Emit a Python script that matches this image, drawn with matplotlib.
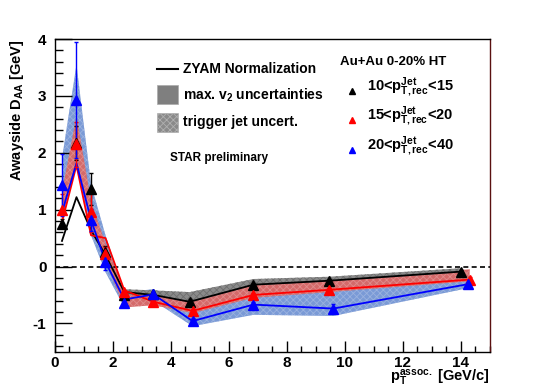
import matplotlib
matplotlib.use("Agg")
import matplotlib.pyplot as plt
import numpy as np
from matplotlib.patches import Rectangle
from matplotlib.lines import Line2D

plt.rcParams['font.family'] = ['Liberation Sans', 'DejaVu Sans']
plt.rcParams['font.weight'] = 'bold'
plt.rcParams['mathtext.fontset'] = 'custom'
plt.rcParams['mathtext.rm'] = 'Liberation Sans:bold'
plt.rcParams['mathtext.it'] = 'Liberation Sans:bold'
plt.rcParams['mathtext.bf'] = 'Liberation Sans:bold'
plt.rcParams['hatch.linewidth'] = 0.6
plt.rcParams['axes.unicode_minus'] = False

# ---------------- data ----------------
# black: 10 < pT,jet < 15
x_blk = [0.25, 0.75, 1.25, 1.75, 2.4, 3.4, 4.65, 6.85, 9.45, 14.0]
y_blk = [0.75, 2.18, 1.37, 0.26, -0.50, -0.49, -0.62, -0.32, -0.25, -0.09]
e_blk = [0.08, 0.30, 0.28, 0.10, 0.04, 0.03, 0.04, 0.03, 0.03, 0.03]
zyam_blk = [0.45, 1.22, 0.64, 0.20, -0.45, -0.50, -0.62, -0.32, -0.25, -0.09]
band_blk_lo = [None, None, None, None, -0.50, -0.50, -0.63, -0.33, -0.26, -0.10]
band_blk_hi = [None, None, None, None, -0.40, -0.42, -0.45, -0.22, -0.18, -0.03]

# red: 15 < pT,jet < 20
x_red = [0.25, 0.75, 1.25, 1.75, 2.4, 3.4, 4.75, 6.85, 9.45, 14.3]
y_red = [1.00, 2.15, 0.96, 0.22, -0.45, -0.63, -0.79, -0.50, -0.41, -0.23]
e_red = [0.28, 0.40, 0.35, 0.12, 0.04, 0.04, 0.04, 0.04, 0.04, 0.04]
zyam_red = [0.78, 1.78, 0.55, 0.50, -0.42, -0.62, -0.78, -0.50, -0.41, -0.23]
band_red_lo = [0.80, 1.90, 0.80, 0.10, -0.72, -0.68, -0.82, -0.55, -0.45, -0.26]
band_red_hi = [1.30, 2.65, 1.15, 0.40, -0.42, -0.45, -0.55, -0.30, -0.22, -0.05]

# blue: 20 < pT,jet < 40
x_blu = [0.25, 0.75, 1.25, 1.75, 2.4, 3.4, 4.75, 6.85, 9.6, 14.25]
y_blu = [1.43, 2.93, 0.82, 0.08, -0.64, -0.49, -0.96, -0.67, -0.74, -0.31]
e_blu = [0.55, 1.02, 0.20, 0.15, 0.04, 0.04, 0.05, 0.04, 0.08, 0.04]
zyam_blu = [0.95, 1.82, 0.82, 0.08, -0.58, -0.49, -0.96, -0.67, -0.74, -0.31]
band_blu_lo = [0.90, 1.85, 0.55, -0.10, -0.72, -0.60, -1.05, -0.85, -0.87, -0.38]
band_blu_hi = [1.90, 3.55, 1.45, 0.55, -0.45, -0.40, -0.70, -0.50, -0.43, -0.20]

legend_labels = ["10<p$^{\\rm Jet}_{\\rm T,rec}$<15",
                 "15<p$^{\\rm Jet}_{\\rm T,rec}$<20",
                 "20<p$^{\\rm Jet}_{\\rm T,rec}$<40"]

# ---------------- figure ----------------
fig = plt.figure(figsize=(5.45, 3.91), dpi=100)
ax = fig.add_axes([0.1004, 0.1003, 0.7986, 0.7997])
ax.set_xlim(0, 15)
ax.set_ylim(-1.5, 4)

def band(x, lo, hi, face, hatch_col, z):
    xs = [a for a, l in zip(x, lo) if l is not None]
    l2 = [l for l in lo if l is not None]
    h2 = [h for h in hi if h is not None]
    ax.fill_between(xs, l2, h2, facecolor=face, edgecolor=hatch_col,
                    hatch='xxxxx', linewidth=0, zorder=z)

band(x_blu, band_blu_lo, band_blu_hi, '#7a9ad6', '#9ab2df', 1)
band(x_red, band_red_lo, band_red_hi, '#d46a6a', '#e08c8c', 2)
band(x_blk, band_blk_lo, band_blk_hi, '#8a8a8a', '#6e6e6e', 3)

ax.axhline(0, color='black', ls=(0, (3, 2)), lw=1.2, zorder=4)

for x, y, e, z, c in [(x_blk, y_blk, e_blk, zyam_blk, 'black'),
                      (x_red, y_red, e_red, zyam_red, '#ff0000'),
                      (x_blu, y_blu, e_blu, zyam_blu, '#0000ff')]:
    ax.plot(x, z, color=c, lw=1.3, zorder=5)
    ax.errorbar(x, y, yerr=e, fmt='^', color=c, ms=6.5, lw=1.0,
                capsize=1.5, capthick=1.0, zorder=6)

# axes styling
ax.set_xticks(np.arange(0, 15, 2))
ax.set_xticks(np.arange(0, 15.01, 0.5), minor=True)
ax.set_yticks([-1, 0, 1, 2, 3, 4])
ax.set_yticks(np.arange(-1.4, 4.01, 0.2), minor=True)
ax.tick_params(axis='both', which='both', direction='in', top=False, right=False,
               labelsize=11)
ax.tick_params(axis='y', which='major', length=12, width=1.0, pad=6)
ax.tick_params(axis='y', which='minor', length=6, width=1.0)
ax.tick_params(axis='x', which='major', length=8, width=1.0, pad=3)
ax.tick_params(axis='x', which='minor', length=4, width=1.0)
for lab in ax.get_xticklabels() + ax.get_yticklabels():
    lab.set_fontweight('bold')
for s in ax.spines.values():
    s.set_linewidth(1.0)
ax.spines['right'].set_color('#5a1010')

W, H = 545.0, 391.0
def fx(p): return p / W
def fy(p): return 1 - p / H

fig.text(0.031, 0.9003, "Awayside D$_{\\rm AA}$ [GeV]", rotation=90,
         ha='center', va='top', fontsize=10.5, fontweight='bold')
fig.text(0.899, fy(382), "p$^{\\rm assoc.}_{\\rm T}$ [GeV/c]", ha='right',
         va='baseline', fontsize=10.5, fontweight='bold')

# left legend
fig.add_artist(Line2D([fx(157), fx(178)], [fy(69), fy(69)], color='black', lw=1.5))
fig.text(fx(183), fy(69), "ZYAM Normalization", va='center', ha='left', fontsize=10, fontweight='bold')
fig.add_artist(Rectangle((fx(157), fy(104)), fx(178) - fx(157), fy(85) - fy(104),
                         facecolor='#7f7f7f', edgecolor='#aaaaaa', lw=0.5, transform=fig.transFigure))
fig.text(fx(183), fy(95), "max. v$_2$ uncertainties", va='center', ha='left', fontsize=10, fontweight='bold')
fig.add_artist(Rectangle((fx(157), fy(132)), fx(178) - fx(157), fy(113) - fy(132),
                         facecolor='#8a8a8a', edgecolor='#b0b0b0', hatch='xxxxx', lw=0.5,
                         transform=fig.transFigure))
fig.text(fx(183), fy(122), "trigger jet uncert.", va='center', ha='left', fontsize=10, fontweight='bold')
fig.text(fx(170), fy(158), "STAR preliminary", va='center', ha='left', fontsize=8.5, fontweight='bold')

# right legend
fig.text(fx(340), fy(62), "Au+Au 0-20% HT", va='center', ha='left', fontsize=9.5, fontweight='bold')
for i, (lab, c) in enumerate(zip(legend_labels, ['black', '#ff0000', '#0000ff'])):
    yy = 91 + 29.5 * i
    fig.add_artist(Line2D([fx(352)], [fy(yy)], marker='^', color=c, ms=5, ls='none'))
    fig.text(fx(367), fy(yy - 4), lab, va='center', ha='left', fontsize=10.5, fontweight='bold')

fig.savefig("out.png", dpi=100)
